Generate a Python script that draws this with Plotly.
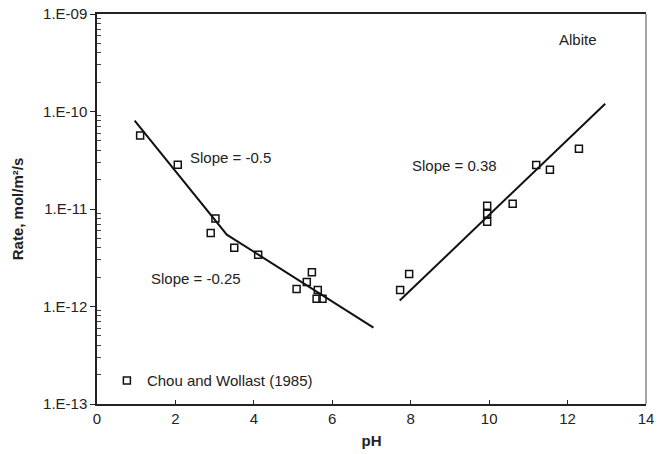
import math
import plotly.graph_objects as go

# Data: Chou and Wollast (1985), albite dissolution rates
ph_obs = [1.10, 2.06, 3.02, 2.90, 3.50, 4.11, 5.48, 5.35, 5.09, 5.63, 5.60, 5.75,
          7.73, 7.96, 9.95, 9.95, 9.95, 10.60, 11.20, 11.55, 12.29]
rate_obs = [5.66e-11, 2.85e-11, 8.0e-12, 5.67e-12, 4.0e-12, 3.4e-12, 2.25e-12, 1.78e-12,
            1.51e-12, 1.48e-12, 1.2e-12, 1.2e-12,
            1.48e-12, 2.15e-12, 1.08e-11, 8.95e-12, 7.4e-12, 1.13e-11, 2.83e-11, 2.53e-11, 4.16e-11]

# Fitted trend lines
acid_ph = [0.96, 3.31, 7.05]
acid_rate = [8.05e-11, 5.45e-12, 6.08e-13]
base_ph = [7.72, 12.96]
base_rate = [1.15e-12, 1.2e-10]

ytick_vals = [1e-13, 1e-12, 1e-11, 1e-10, 1e-9]
ytick_text = ["1.E-13", "1.E-12", "1.E-11", "1.E-10", "1.E-09"]
xtick_vals = [0, 2, 4, 6, 8, 10, 12, 14]
minor_digits = [2, 3, 4, 5, 6, 7, 8, 9]
minor_vals = [d * 10.0 ** e for e in (-13, -12, -11, -10) for d in minor_digits]

FONT = "Liberation Sans, Arial, sans-serif"

fig = go.Figure()
fig.add_trace(go.Scatter(x=acid_ph, y=acid_rate, mode="lines",
                         line=dict(color="#111111", width=2), showlegend=False, hoverinfo="skip"))
fig.add_trace(go.Scatter(x=base_ph, y=base_rate, mode="lines",
                         line=dict(color="#111111", width=2), showlegend=False, hoverinfo="skip"))
fig.add_trace(go.Scatter(x=ph_obs, y=rate_obs, mode="markers", name="Chou and Wollast (1985)",
                         marker=dict(symbol="square-open", size=7, color="#111111",
                                     line=dict(width=1.5, color="#111111"))))

fig.update_layout(
    width=665, height=454,
    margin=dict(l=97, r=19, t=14, b=50),
    paper_bgcolor="white", plot_bgcolor="white",
    font=dict(family=FONT, size=15, color="#222222"),
    legend=dict(x=0.018, y=0.017, xanchor="left", yanchor="bottom",
                bgcolor="rgba(0,0,0,0)", font=dict(size=15, color="#222222"),
                itemwidth=30, tracegroupgap=0),
    xaxis=dict(range=[0, 14], tickvals=xtick_vals, ticks="inside", ticklen=4,
               tickcolor="#222222", showline=True, linecolor="#222222", linewidth=1.5,
               mirror=True, showgrid=False, zeroline=False, automargin=False,
               title=dict(text="<b>pH</b>", standoff=10, font=dict(size=15))),
    yaxis=dict(type="log", range=[-13, -9], tickvals=ytick_vals, ticktext=ytick_text,
               ticks="outside", ticklen=5, tickcolor="#222222",
               showline=True, linecolor="#222222", linewidth=1.5, showgrid=False,
               zeroline=False, automargin=False,
               minor=dict(tickvals=minor_vals, ticks="inside", ticklen=4,
                          tickcolor="#444444", showgrid=False),
               title=dict(text="<b>Rate, mol/m²/s</b>", standoff=16, font=dict(size=15))),
    showlegend=True,
)

# Gray right border
fig.add_shape(type="line", xref="paper", yref="paper", x0=1, x1=1, y0=0, y1=1,
              line=dict(color="#888888", width=1.5))

anns = [
    ("Albite", 12.27, 5.47e-10),
    ("Slope = -0.5", 3.41, 3.34e-11),
    ("Slope = -0.25", 2.52, 1.96e-12),
    ("Slope = 0.38", 9.12, 2.82e-11),
]
for txt, xx, yy in anns:
    fig.add_annotation(x=xx, y=math.log10(yy), text=txt, showarrow=False,
                       font=dict(size=15, color="#222222"), xanchor="center", yanchor="middle")

fig.write_html("out.html", config={"displayModeBar": False},
               post_script="document.body.style.margin='0';")
